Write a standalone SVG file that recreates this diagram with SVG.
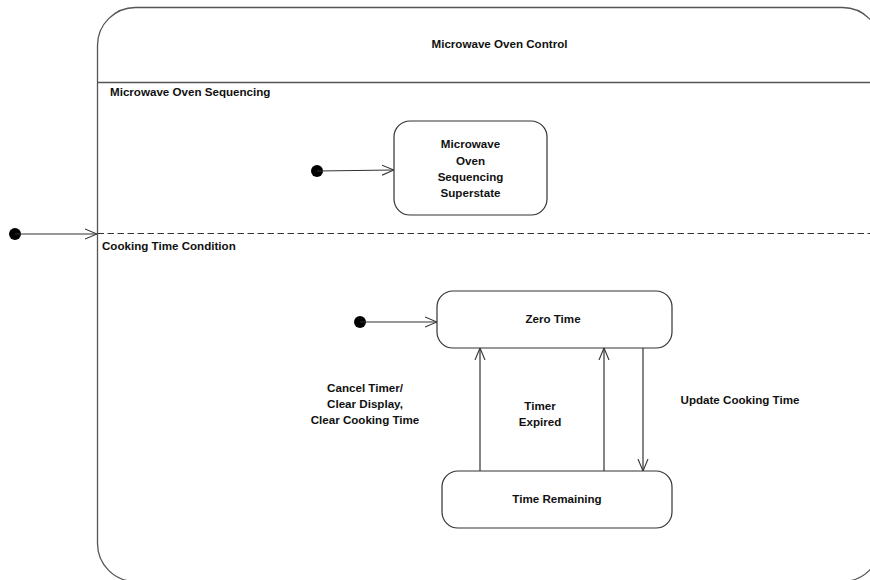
<svg xmlns="http://www.w3.org/2000/svg" width="870" height="580" viewBox="0 0 870 580">
  <defs>
    <style>
      .frame { fill: #ffffff; stroke: #555555; stroke-width: 1.3; }
      .state { fill: #ffffff; stroke: #333333; stroke-width: 1.2; }
      .sep { stroke: #555555; stroke-width: 1.3; fill: none; }
      .dash { stroke: #333333; stroke-width: 1.2; stroke-dasharray: 6.5 3.5; fill: none; }
      .edge { stroke: #333333; stroke-width: 1.2; fill: none; marker-end: url(#open); }
      .init { fill: #000000; }
      text { font-family: "Liberation Sans", Arial, sans-serif; font-weight: bold; font-size: 11.6px; fill: #111111; }
      .c { text-anchor: middle; }
    </style>
    <marker id="open" viewBox="0 0 12 12" refX="12" refY="6" markerWidth="12" markerHeight="12" markerUnits="userSpaceOnUse" orient="auto">
      <path d="M0,1 L12,6 L0,11" fill="none" stroke="#333333" stroke-width="1.1"/>
    </marker>
  </defs>

  <!-- Composite state: Microwave Oven Control -->
  <g id="microwave-oven-control">
    <rect class="frame" x="97.5" y="7.5" width="783" height="574" rx="38" ry="38"/>
    <text class="c" x="499.5" y="48">Microwave Oven Control</text>
    <line class="sep" x1="97.5" y1="82.5" x2="870" y2="82.5"/>
    <line class="dash" x1="97.5" y1="233.5" x2="870" y2="233.5"/>
  </g>

  <!-- Region: Microwave Oven Sequencing -->
  <g id="region-sequencing">
    <text x="110" y="96">Microwave Oven Sequencing</text>
  </g>

  <!-- Region: Cooking Time Condition -->
  <g id="region-cooking-time">
    <text x="102" y="250">Cooking Time Condition</text>
  </g>

  <g id="init-outer"><circle class="init" cx="15" cy="234" r="6"/></g>
  <g id="init-sequencing"><circle class="init" cx="317" cy="171" r="6"/></g>
  <g id="init-cooking"><circle class="init" cx="360" cy="322" r="6"/></g>

  <g id="sequencing-superstate">
    <rect class="state" x="394" y="121" width="153" height="94" rx="16" ry="16"/>
    <text class="c" x="470.5" y="148">Microwave</text>
    <text class="c" x="470.5" y="165">Oven</text>
    <text class="c" x="470.5" y="181">Sequencing</text>
    <text class="c" x="470.5" y="197">Superstate</text>
  </g>

  <g id="zero-time">
    <rect class="state" x="437" y="291" width="235" height="57" rx="16" ry="16"/>
    <text class="c" x="553" y="323">Zero Time</text>
  </g>

  <g id="time-remaining">
    <rect class="state" x="442" y="471" width="230" height="57" rx="16" ry="16"/>
    <text class="c" x="557" y="503">Time Remaining</text>
  </g>

  <!-- Transitions -->
  <g id="connectors">
    <line class="edge" x1="15" y1="234" x2="97" y2="234"/>
    <line class="edge" x1="317" y1="171" x2="394" y2="170"/>
    <line class="edge" x1="360" y1="322" x2="437" y2="322"/>
    <line class="edge" x1="480" y1="471" x2="480" y2="348"/>
    <line class="edge" x1="604" y1="471" x2="604" y2="348"/>
    <line class="edge" x1="643" y1="348" x2="643" y2="471"/>
  </g>

  <!-- Transition labels -->
  <g id="labels">
    <text class="c" x="365" y="392">Cancel Timer/</text>
    <text class="c" x="365" y="408">Clear Display,</text>
    <text class="c" x="365" y="424">Clear Cooking Time</text>
    <text class="c" x="540" y="410">Timer</text>
    <text class="c" x="540" y="426">Expired</text>
    <text class="c" x="740" y="404">Update Cooking Time</text>
  </g>
</svg>
